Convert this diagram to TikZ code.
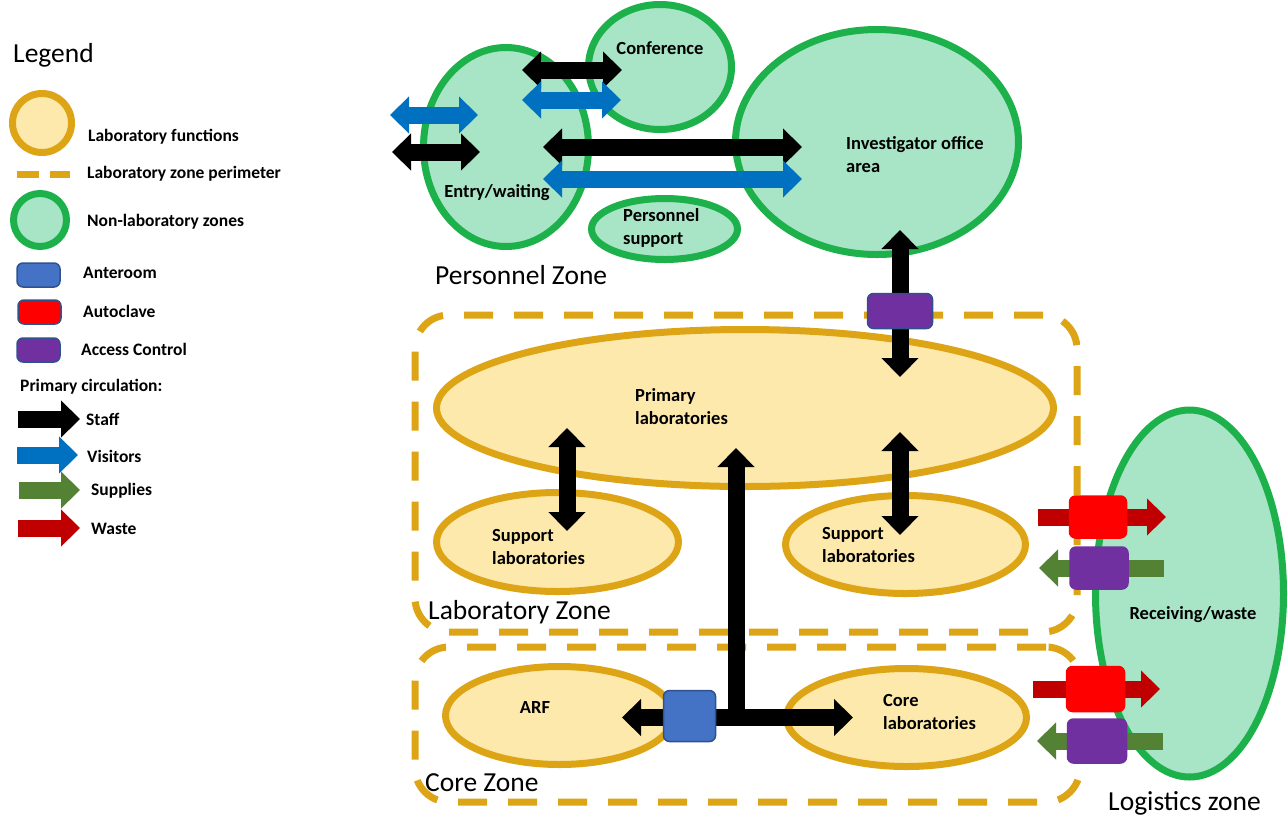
\documentclass[tikz,border=0pt]{standalone}
\usepackage{fontspec}
\setmainfont{Carlito}
\usetikzlibrary{arrows.meta,shapes.geometric}

\definecolor{labgold}{HTML}{DDA515}
\definecolor{labfill}{HTML}{FDE9AC}
\definecolor{nlgreen}{HTML}{1DB14B}
\definecolor{nlfill}{HTML}{A8E4C6}
\definecolor{anteblue}{HTML}{4472C4}
\definecolor{boxedge}{HTML}{2F528F}
\definecolor{autored}{HTML}{FF0000}
\definecolor{accpurple}{HTML}{7030A0}
\definecolor{visitblue}{HTML}{0070C0}
\definecolor{supplygreen}{HTML}{548235}
\definecolor{wastered}{HTML}{C00000}

\tikzset{
  blk/.tip={Triangle[width=36pt,length=19pt]},
  flowone/.style={line width=17pt, -blk},
  flowtwo/.style={line width=17pt, blk-blk},
  staff/.style={draw=black},
  visit/.style={draw=visitblue},
  supply/.style={draw=supplygreen},
  waste/.style={draw=wastered},
  labfn/.style={ellipse, draw=labgold, fill=labfill, line width=7pt, inner sep=0pt},
  nonlab/.style={ellipse, draw=nlgreen, fill=nlfill, line width=7pt, inner sep=0pt},
  zonebox/.style={rectangle, draw=labgold, line width=7pt, rounded corners=34pt,
                  dash pattern=on 29pt off 21pt, inner sep=0pt},
  roombox/.style={rectangle, rounded corners=6pt, line width=1.5pt, inner sep=0pt},
  legtxt/.style={font=\bfseries\fontsize{17.5}{21}\selectfont, inner sep=0pt, anchor=west},
  labtxt/.style={font=\bfseries\fontsize{18.5}{23}\selectfont, inner sep=0pt, align=left},
  zonetxt/.style={font=\fontsize{27.5}{30}\selectfont, inner sep=0pt, anchor=west},
}

\begin{document}
\begin{tikzpicture}[x=1pt,y=-1pt]
\useasboundingbox (0,0) rectangle (1288,815);
\fill[white] (0,0) rectangle (1288,815);

% ---------------- Legend ----------------
\node[zonetxt] (legend) at (13,55) {Legend};
\node[labfn, minimum width=59pt, minimum height=59pt] (lgLab) at (42,123) {};
\node[legtxt] (lgLabT) at (88,137) {Laboratory functions};
\coordinate (lgDa) at (17,174);
\coordinate (lgDb) at (70,174);
\draw[line width=7pt, draw=labgold, dash pattern=on 22pt off 11pt] (lgDa) -- (lgDb);
\node[legtxt] (lgDashT) at (87,174) {Laboratory zone perimeter};
\node[nonlab, minimum width=53pt, minimum height=53pt] (lgNon) at (40,220) {};
\node[legtxt] (lgNonT) at (87,222) {Non-laboratory zones};
\node[roombox, draw=boxedge, fill=anteblue, minimum width=43pt, minimum height=24pt] (lgAnte) at (38.5,275) {};
\node[legtxt] (lgAnteT) at (83,273) {Anteroom};
\node[roombox, draw=boxedge, fill=autored, minimum width=43pt, minimum height=24pt] (lgAuto) at (39.5,312) {};
\node[legtxt] (lgAutoT) at (83,311) {Autoclave};
\node[roombox, draw=boxedge, fill=accpurple, minimum width=43pt, minimum height=24pt] (lgAcc) at (38.5,350) {};
\node[legtxt] (lgAccT) at (81,349) {Access Control};
\node[legtxt] (lgCirc) at (20,387) {Primary circulation:};

\coordinate (lsA) at (18,419);  \coordinate (lsB) at (80,419);
\coordinate (lvA) at (17,455);  \coordinate (lvB) at (78,455);
\coordinate (lpA) at (19,490);  \coordinate (lpB) at (80,490);
\coordinate (lwA) at (18,528);  \coordinate (lwB) at (80,528);
\draw[flowone, staff]  (lsA) -- (lsB);
\draw[flowone, visit]  (lvA) -- (lvB);
\draw[flowone, supply] (lpA) -- (lpB);
\draw[flowone, waste]  (lwA) -- (lwB);
\node[legtxt] (lgStaff) at (86,419) {Staff};
\node[legtxt] (lgVisit) at (87,456) {Visitors};
\node[legtxt] (lgSupply) at (91,491) {Supplies};
\node[legtxt] (lgWaste) at (91,529) {Waste};

% ---------------- Zone perimeters ----------------
\node[zonebox, minimum width=662pt, minimum height=317pt] (labzone) at (746,473.5) {};
\node[zonebox, minimum width=665pt, minimum height=155pt] (corezone) at (747.5,724.5) {};

% ---------------- Laboratory functions ----------------
\node[labfn, minimum width=617pt, minimum height=157pt] (primary) at (745,408) {};
\node[labfn, minimum width=242pt, minimum height=99pt] (suppL) at (557.5,542) {};
\node[labfn, minimum width=240pt, minimum height=98pt] (suppR) at (905.5,544.5) {};
\node[labfn, minimum width=228pt, minimum height=98pt] (arf) at (559.5,715.5) {};
\node[labfn, minimum width=240pt, minimum height=98pt] (corelab) at (906.5,717.5) {};

% ---------------- Non-laboratory zones ----------------
\node[nonlab, minimum width=165pt, minimum height=199pt] (entry) at (506,147) {};
\node[nonlab, minimum width=143pt, minimum height=125pt] (conf) at (660,67) {};
\node[nonlab, minimum width=283pt, minimum height=225pt] (office) at (877,142) {};
\node[nonlab, minimum width=146pt, minimum height=61pt] (psupport) at (664.5,229) {};
\node[nonlab, minimum width=188pt, minimum height=367pt] (receiving) at (1189.5,593.5) {};

% ---------------- Circulation ----------------
\coordinate (e1a) at (390,115);  \coordinate (e1b) at (478,115);
\coordinate (e2a) at (392,152);  \coordinate (e2b) at (480,152);
\coordinate (c1a) at (522,70);   \coordinate (c1b) at (622,70);
\coordinate (c2a) at (522,100);  \coordinate (c2b) at (621,100);
\coordinate (o1a) at (543,147);  \coordinate (o1b) at (802,147);
\coordinate (o2a) at (543,179);  \coordinate (o2b) at (802,179);
\draw[flowtwo, visit] (e1a) -- (e1b);
\draw[flowtwo, staff] (e2a) -- (e2b);
\draw[flowtwo, staff] (c1a) -- (c1b);
\draw[flowtwo, visit] (c2a) -- (c2b);
\draw[flowtwo, staff] (o1a) -- (o1b);
\draw[flowtwo, visit] (o2a) -- (o2b);

\coordinate (ovA) at (900,230);  \coordinate (ovB) at (900,377);
\draw[flowtwo, staff] (ovA) -- (ovB);

\coordinate (slA) at (567,428);  \coordinate (slB) at (567,531);
\coordinate (srA) at (900,432);  \coordinate (srB) at (900,535);
\draw[flowtwo, staff] (slA) -- (slB);
\draw[flowtwo, staff] (srA) -- (srB);

\coordinate (tee) at (736,717.5);
\coordinate (teeUp) at (736,448);
\coordinate (teeL) at (622,717.5);
\coordinate (teeR) at (853,717.5);
\draw[flowone, staff] (tee) -- (teeUp);
\draw[flowtwo, staff] (teeL) -- (teeR);

\coordinate (w1a) at (1038,517);  \coordinate (w1b) at (1166,517);
\coordinate (p1a) at (1164,568);  \coordinate (p1b) at (1039,568);
\coordinate (w2a) at (1033,689);  \coordinate (w2b) at (1160,689);
\coordinate (p2a) at (1163,741);  \coordinate (p2b) at (1037,741);
\draw[flowone, waste]  (w1a) -- (w1b);
\draw[flowone, supply] (p1a) -- (p1b);
\draw[flowone, waste]  (w2a) -- (w2b);
\draw[flowone, supply] (p2a) -- (p2b);

% ---------------- Rooms ----------------
\node[roombox, draw=boxedge, fill=accpurple, minimum width=65pt, minimum height=35pt] (accTop) at (900,311) {};
\node[roombox, draw=boxedge, fill=anteblue, minimum width=52pt, minimum height=51pt] (ante) at (689.5,716) {};
\node[roombox, draw=autored, fill=autored, minimum width=57pt, minimum height=42pt] (auto1) at (1098,517) {};
\node[roombox, draw=accpurple, fill=accpurple, minimum width=58pt, minimum height=42pt] (acc1) at (1099,568) {};
\node[roombox, draw=autored, fill=autored, minimum width=58pt, minimum height=45pt] (auto2) at (1095.5,689) {};
\node[roombox, draw=accpurple, fill=accpurple, minimum width=59pt, minimum height=44pt] (acc2) at (1097,741) {};

% ---------------- Labels ----------------
\node[labtxt] (confT) at (660,48) {Conference};
\node[labtxt] (entryT) at (497,193) {Entry/waiting};
\node[labtxt, anchor=west] (psupT) at (623,227.5) {Personnel\\support};
\node[labtxt, anchor=west] (officeT) at (846,155) {Investigator office\\area};
\node[zonetxt] (pzone) at (435,275) {Personnel Zone};

\node[labtxt, anchor=west] (primT) at (635,406.5) {Primary\\laboratories};
\node[labtxt, anchor=west] (suppLT) at (492,547) {Support\\laboratories};
\node[labtxt, anchor=west] (suppRT) at (822,544.5) {Support\\laboratories};
\node[zonetxt] (lzone) at (428,612) {Laboratory Zone};

\node[labtxt] (arfT) at (535,707) {ARF};
\node[labtxt, anchor=west] (coreT) at (883,711.5) {Core\\laboratories};
\node[zonetxt] (czone) at (425,783) {Core Zone};

\node[labtxt] (recvT) at (1193,615) {Receiving/waste};
\node[zonetxt] (logzone) at (1108,803) {Logistics zone};
\end{tikzpicture}
\end{document}
